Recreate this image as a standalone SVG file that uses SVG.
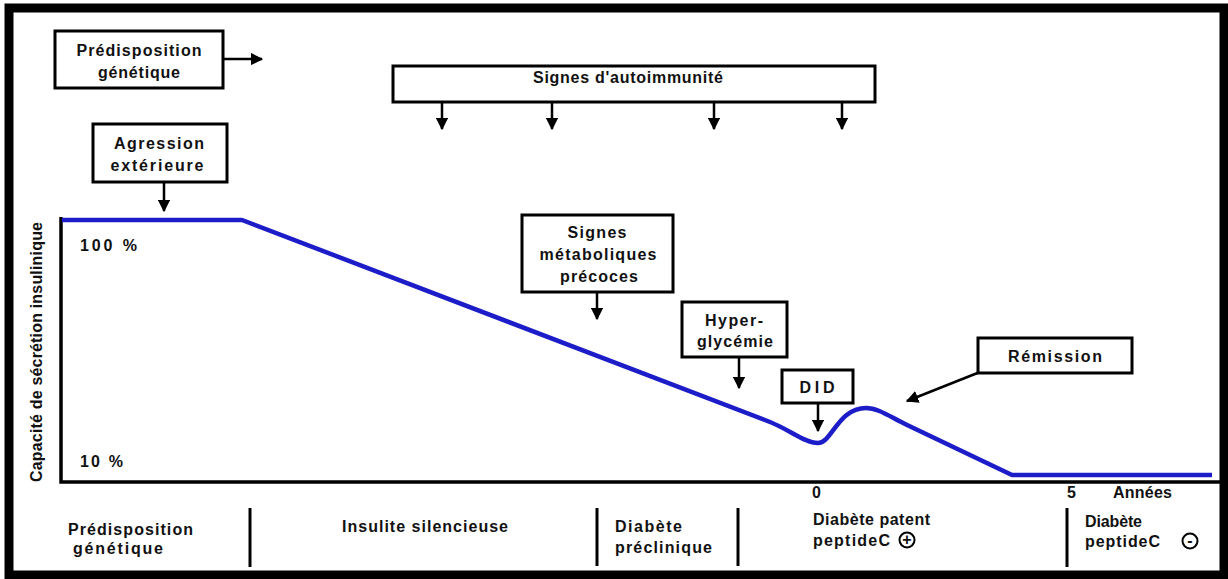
<svg xmlns="http://www.w3.org/2000/svg" width="1228" height="579" viewBox="0 0 1228 579">
<style>
text{font-family:"Liberation Sans",Arial,sans-serif;font-weight:bold;font-size:16px;fill:#111}
.c{text-anchor:middle}
.box{fill:#fff;stroke:#000;stroke-width:3}
.arr{stroke:#000;stroke-width:2.5;fill:none;marker-end:url(#ah)}
.sep{stroke:#000;stroke-width:3}
.axis{stroke:#000;stroke-width:3.5;fill:none}
</style>
<defs>
<marker id="ah" viewBox="0 0 10 10" refX="9" refY="5" markerWidth="5" markerHeight="5" orient="auto" markerUnits="strokeWidth">
<path d="M0,0 L10,5 L0,10 Z" fill="#000"/>
</marker>
</defs>
<rect x="0" y="0" width="1228" height="579" fill="#fff"/>
<rect x="9" y="8" width="1215" height="567" fill="none" stroke="#000" stroke-width="9"/>

<g id="axes">
<path class="axis" d="M61,217 V482 H1220"/>
<text x="80" y="251" textLength="57">100 %</text>
<text x="80" y="467" textLength="43">10 %</text>
<text x="812" y="498">0</text>
<text x="1067" y="498">5</text>
<text x="1113" y="498" textLength="59">Années</text>
<text class="c" transform="translate(42,352) rotate(-90)" textLength="260" font-size="15">Capacité de sécrétion insulinique</text>
</g>

<g id="curve">
<path d="M62,220 H242 L770,422 C790,430 805,443 818,443 C832,443 838,408 866,408 C878,408 890,416.8 905,424 L1012,475 H1212" fill="none" stroke="#1c1cc8" stroke-width="4.5" stroke-linejoin="round"/>
</g>

<g id="connectors">
<line class="arr" x1="223" y1="59" x2="262" y2="59"/>
<line class="arr" x1="164" y1="182" x2="164" y2="211"/>
<line class="arr" x1="442" y1="102" x2="442" y2="129"/>
<line class="arr" x1="552" y1="102" x2="552" y2="129"/>
<line class="arr" x1="714" y1="102" x2="714" y2="129"/>
<line class="arr" x1="842" y1="102" x2="842" y2="129"/>
<line class="arr" x1="597" y1="292" x2="597" y2="319"/>
<line class="arr" x1="739" y1="357" x2="739" y2="388"/>
<line class="arr" x1="818" y1="403" x2="818" y2="431"/>
<line class="arr" x1="980" y1="372" x2="907" y2="401"/>
</g>

<g id="n-predisposition">
<rect class="box" x="55" y="31" width="168" height="57"/>
<text class="c" x="139" y="56" textLength="125">Prédisposition</text>
<text class="c" x="139" y="78" textLength="82">génétique</text>
</g>

<g id="n-agression">
<rect class="box" x="93" y="124" width="134" height="58"/>
<text class="c" x="159" y="149" textLength="90">Agression</text>
<text class="c" x="157" y="171" textLength="93">extérieure</text>
</g>

<g id="n-autoimmunite">
<rect class="box" x="393" y="66" width="482" height="36"/>
<text class="c" x="628" y="83" textLength="190">Signes d'autoimmunité</text>
</g>

<g id="n-metaboliques">
<rect class="box" x="522" y="215" width="151" height="77"/>
<text class="c" x="597" y="238" textLength="59">Signes</text>
<text class="c" x="598" y="260" textLength="117">métaboliques</text>
<text class="c" x="599" y="282" textLength="78">précoces</text>
</g>

<g id="n-hyperglycemie">
<rect class="box" x="682" y="302" width="105" height="55"/>
<text class="c" x="734" y="326" textLength="58">Hyper-</text>
<text class="c" x="735" y="347" textLength="76">glycémie</text>
</g>

<g id="n-did">
<rect class="box" x="782" y="370" width="71" height="33"/>
<text class="c" x="817" y="393" textLength="35" font-size="17">DID</text>
</g>

<g id="n-remission">
<rect class="box" x="978" y="338" width="154" height="35"/>
<text class="c" x="1055" y="362" textLength="94">Rémission</text>
</g>

<g id="phases">
<line class="sep" x1="250" y1="508" x2="250" y2="567"/>
<line class="sep" x1="597" y1="508" x2="597" y2="566"/>
<line class="sep" x1="738" y1="508" x2="738" y2="566"/>
<line class="sep" x1="1067" y1="508" x2="1067" y2="567"/>
<text x="68" y="535" textLength="125">Prédisposition</text>
<text x="73" y="554" textLength="90">génétique</text>
<text x="342" y="532" textLength="166">Insulite silencieuse</text>
<text x="615" y="532" textLength="67">Diabète</text>
<text x="615" y="553" textLength="97">préclinique</text>
<text x="813" y="525" textLength="117">Diabète patent</text>
<text x="813" y="546" textLength="77">peptideC</text>
<circle cx="907" cy="540" r="7.5" fill="none" stroke="#000" stroke-width="2"/>
<text class="c" x="907" y="545" font-size="13">+</text>
<text x="1085" y="527" textLength="57">Diabète</text>
<text x="1085" y="547" textLength="75">peptideC</text>
<circle cx="1190" cy="541" r="7.5" fill="none" stroke="#000" stroke-width="2"/>
<text class="c" x="1190" y="546" font-size="13">-</text>
</g>
</svg>
